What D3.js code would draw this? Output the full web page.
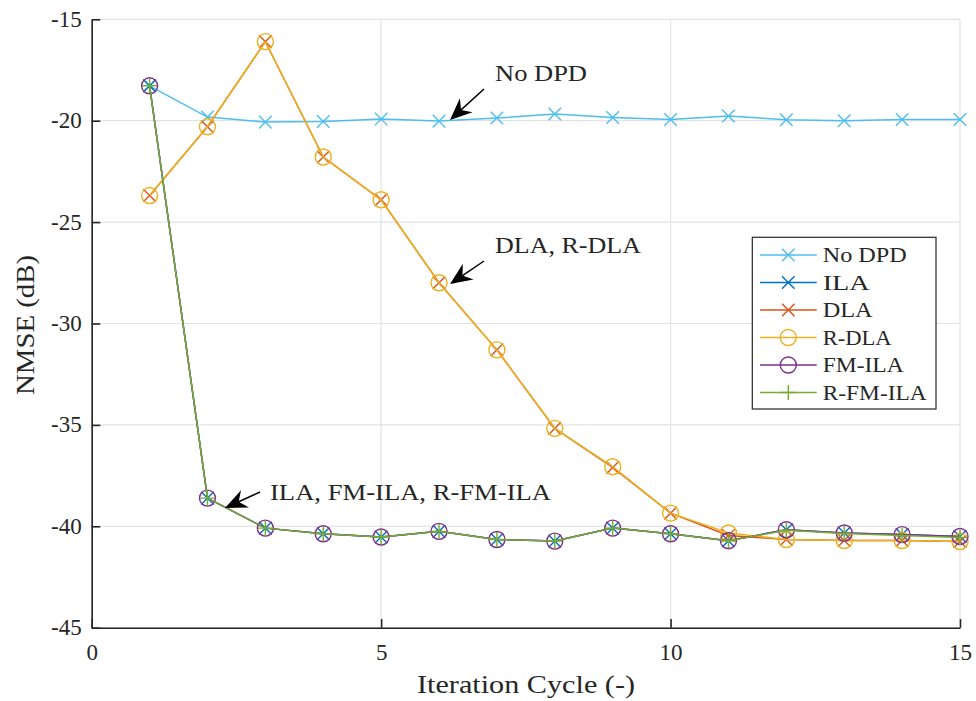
<!DOCTYPE html>
<html><head><meta charset="utf-8">
<script src="https://cdn.jsdelivr.net/npm/d3@7"></script>
<style>body{margin:0;background:#fff}svg{display:block}text{font-family:"Liberation Serif","Times New Roman",serif;fill:#262626}</style>
</head><body><svg id="c" width="976" height="701"></svg>
<script>
const iterations = [1,2,3,4,5,6,7,8,9,10,11,12,13,14,15];
const noDPD  = [-18.28,-19.82,-20.07,-20.04,-19.92,-20.02,-19.87,-19.67,-19.84,-19.94,-19.77,-19.95,-20.00,-19.94,-19.94];
const ila    = [-18.28,-38.61,-40.09,-40.37,-40.53,-40.25,-40.65,-40.73,-40.09,-40.37,-40.71,-40.17,-40.33,-40.41,-40.50];
const dla    = [-23.69,-20.30,-16.10,-21.79,-23.90,-27.99,-31.30,-35.17,-37.10,-39.35,-40.45,-40.65,-40.70,-40.70,-40.75];
const rdla   = [-23.69,-20.30,-16.10,-21.79,-23.90,-27.99,-31.30,-35.17,-37.06,-39.35,-40.33,-40.65,-40.70,-40.70,-40.75];
const fmila  = [-18.28,-38.61,-40.09,-40.37,-40.53,-40.25,-40.65,-40.73,-40.09,-40.37,-40.71,-40.17,-40.33,-40.41,-40.50];
const rfmila = [-18.28,-38.61,-40.09,-40.37,-40.53,-40.25,-40.65,-40.73,-40.09,-40.37,-40.71,-40.20,-40.36,-40.45,-40.55];
const seriesNames = ["No DPD","ILA","DLA","R-DLA","FM-ILA","R-FM-ILA"];
const seriesColors = ["#4DBEEE","#0072BD","#D95319","#EDB120","#7E2F8E","#77AC30"];
const seriesMarkers = ["x","x","x","o","o","+"];
const xTicks = [0,5,10,15];
const yTicks = [-45,-40,-35,-30,-25,-20,-15];
const annotations = [
  {text:"No DPD", tx:495, ty:81, ax:[484,89], tip:[450,120], w:92},
  {text:"DLA, R-DLA", tx:495, ty:253, ax:[484,261], tip:[450,284], w:146},
  {text:"ILA, FM-ILA, R-FM-ILA", tx:270, ty:500, ax:[260,492], tip:[225,508], w:281}
];
const seriesData = [noDPD, ila, dla, rdla, fmila, rfmila];

const svg = d3.select("#c");
const x = d3.scaleLinear().domain([0,15]).range([91.7,960]);
const y = d3.scaleLinear().domain([-45,-15]).range([627.7,19.3]);

// grid
const g = svg.append("g");
g.selectAll(".gx").data(xTicks).join("line")
  .attr("x1",d=>x(d)).attr("x2",d=>x(d)).attr("y1",y(-45)).attr("y2",y(-15))
  .attr("stroke","#e3e3e3").attr("stroke-width",1.2);
g.selectAll(".gy").data(yTicks).join("line")
  .attr("x1",x(0)).attr("x2",x(15)).attr("y1",d=>y(d)).attr("y2",d=>y(d))
  .attr("stroke","#e3e3e3").attr("stroke-width",1.2);

// axes
const ax = svg.append("g").attr("transform",`translate(0,${y(-45)})`)
  .call(d3.axisBottom(x).tickValues(xTicks).tickFormat(d=>String(d)).tickSizeInner(-8.6).tickSizeOuter(0).tickPadding(16));
const ay = svg.append("g").attr("transform",`translate(${x(0)},0)`)
  .call(d3.axisLeft(y).tickValues(yTicks).tickFormat(d=>String(d)).tickSizeInner(-8.6).tickSizeOuter(0).tickPadding(10));
[ax,ay].forEach(a=>{
  a.select(".domain").attr("stroke","#262626").attr("stroke-width",1.6);
  a.selectAll(".tick line").attr("stroke","#262626").attr("stroke-width",1.6);
  a.selectAll(".tick text").attr("font-size",23).attr("font-family","Liberation Serif").attr("fill","#262626");
});
ax.selectAll(".tick text").attr("dy","0.71em");
ay.selectAll(".tick text").attr("dy","0.3em");

// labels
svg.append("text").attr("x",526).attr("y",693).attr("text-anchor","middle")
  .attr("font-size",26).attr("textLength",218).attr("lengthAdjust","spacingAndGlyphs").text("Iteration Cycle (-)");
svg.append("text").attr("transform","translate(34,325) rotate(-90)").attr("text-anchor","middle")
  .attr("font-size",26).attr("textLength",140).attr("lengthAdjust","spacingAndGlyphs").text("NMSE (dB)");

// marker drawing
function drawMarker(sel, type, color){
  if(type==="o"){
    sel.append("circle").attr("r",8).attr("fill","none").attr("stroke",color).attr("stroke-width",1.4);
  } else if(type==="x"){
    const s=6.3;
    sel.append("path").attr("d",`M${-s},${-s}L${s},${s}M${-s},${s}L${s},${-s}`).attr("stroke",color).attr("stroke-width",1.4).attr("fill","none");
  } else {
    const s=7.5;
    sel.append("path").attr("d",`M${-s},0L${s},0M0,${-s}L0,${s}`).attr("stroke",color).attr("stroke-width",1.4).attr("fill","none");
  }
}

const line = d3.line().x((d,i)=>x(iterations[i])).y(d=>y(d));
seriesData.forEach((vals,k)=>{
  const sg = svg.append("g");
  sg.append("path").datum(vals).attr("d",line).attr("fill","none")
    .attr("stroke",seriesColors[k]).attr("stroke-width",1.5);
  vals.forEach((v,i)=>{
    const m = sg.append("g").attr("transform",`translate(${x(iterations[i])},${y(v)})`);
    drawMarker(m, seriesMarkers[k], seriesColors[k]);
  });
});

// annotations
annotations.forEach(a=>{
  const [x0,y0]=a.ax, [x1,y1]=a.tip;
  const dx=x1-x0, dy=y1-y0, len=Math.hypot(dx,dy);
  const ux=dx/len, uy=dy/len, px=-uy, py=ux;
  const L=22, W=9.5, N=15;
  const bx=x1-ux*L, by=y1-uy*L;
  const nx=x1-ux*N, ny=y1-uy*N;
  svg.append("line").attr("x1",x0).attr("y1",y0).attr("x2",nx).attr("y2",ny).attr("stroke","#000").attr("stroke-width",1.5);
  svg.append("path").attr("d",`M${x1},${y1}L${bx+px*W},${by+py*W}L${nx},${ny}L${bx-px*W},${by-py*W}Z`).attr("fill","#000");
  svg.append("text").attr("x",a.tx).attr("y",a.ty).attr("font-size",24).attr("fill","#000")
    .attr("textLength",a.w).attr("lengthAdjust","spacingAndGlyphs").text(a.text);
});

// legend
const lg = svg.append("g");
lg.append("rect").attr("x",752.3).attr("y",237.3).attr("width",183.7).attr("height",171.7)
  .attr("fill","#fff").attr("stroke","#262626").attr("stroke-width",1.2);
const legendWidths = [84,47,50,69,81,104];
seriesNames.forEach((n,k)=>{
  const yy = 255 + k*27.5;
  lg.append("line").attr("x1",760).attr("x2",816.7).attr("y1",yy).attr("y2",yy).attr("stroke",seriesColors[k]).attr("stroke-width",1.5);
  drawMarker(lg.append("g").attr("transform",`translate(788.3,${yy})`), seriesMarkers[k], seriesColors[k]);
  lg.append("text").attr("x",822.7).attr("y",yy).attr("dy","0.34em").attr("font-size",22).attr("fill","#000")
    .attr("textLength",legendWidths[k]).attr("lengthAdjust","spacingAndGlyphs").text(n);
});
</script></body></html>
